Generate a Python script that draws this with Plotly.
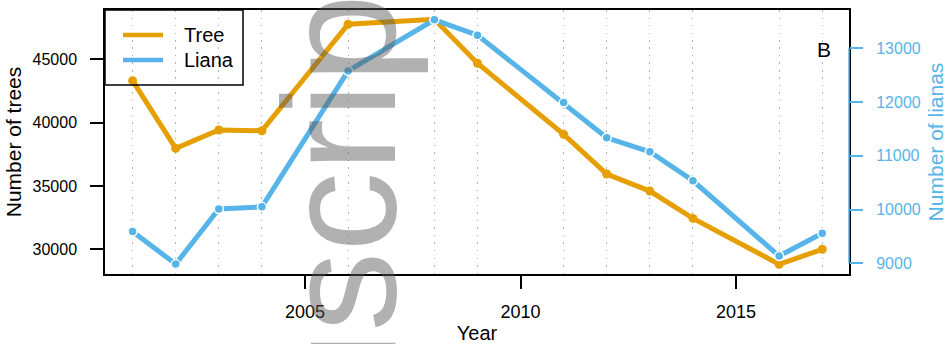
import plotly.graph_objects as go

# Annual counts of stems in the plot
years = [2001, 2002, 2003, 2004, 2006, 2008, 2009, 2011, 2012, 2013, 2014, 2016, 2017]
trees = [43310, 37970, 39415, 39360, 47765, 48160, 44685, 39075, 35940, 34595, 32440, 28820, 30000]
lianas = [9590, 8985, 10010, 10050, 12580, 13530, 13245, 11990, 11335, 11075, 10535, 9135, 9560]

# Axis ticks
x_ticks = [2005, 2010, 2015]
tree_ticks = [30000, 35000, 40000, 45000]
liana_ticks = [9000, 10000, 11000, 12000, 13000]

series_names = ["Tree", "Liana"]
TREE = "#E69F00"
LIANA = "#56B4E9"
series_colors = [TREE, LIANA]
FONT = "Liberation Sans, Arial, Helvetica, sans-serif"

fig = go.Figure()

# Tree series (left axis)
fig.add_trace(go.Scatter(x=years, y=trees, mode="lines+markers", name=series_names[0],
                         line=dict(color=TREE, width=5),
                         marker=dict(color=TREE, size=9), yaxis="y"))

# Liana series (right axis)
fig.add_trace(go.Scatter(x=years, y=lianas, mode="lines+markers", name=series_names[1],
                         line=dict(color=LIANA, width=5),
                         marker=dict(color=LIANA, size=9, line=dict(color="white", width=1.5)),
                         yaxis="y2"))

fig.update_layout(
    width=949, height=344,
    margin=dict(l=105, r=100, t=10, b=70, autoexpand=False),
    paper_bgcolor="white", plot_bgcolor="white",
    font=dict(family=FONT, color="black"),
    showlegend=False,
    xaxis=dict(
        range=[2000.36, 2017.62], tickmode="array", tickvals=x_ticks,
        ticks="outside", ticklen=13, tickwidth=1.5, tickcolor="black",
        showline=True, linecolor="black", linewidth=1.5, mirror=True,
        showgrid=False, zeroline=False, automargin=False,
        tickfont=dict(size=18, color="black"), ticklabelstandoff=8,
        title=dict(text="Year", font=dict(size=20, color="black"), standoff=11),
        minor=dict(tickmode="array", tickvals=years, showgrid=True, ticks="",
                   gridcolor="#b0b0b0", griddash="1.5px,6px", gridwidth=1.3),
    ),
    yaxis=dict(
        range=[28050, 48890], tickmode="array", tickvals=tree_ticks, tickformat="d",
        ticks="outside", ticklen=13, tickwidth=1.5, tickcolor="black",
        showline=True, linecolor="black", linewidth=1.5, mirror=True,
        showgrid=False, zeroline=False, automargin=False,
        tickfont=dict(size=16, color="black"), ticklabelstandoff=10,
        title=dict(text="Number of trees", font=dict(size=21, color="black"), standoff=5),
    ),
    yaxis2=dict(
        overlaying="y", side="right",
        range=[8801, 13713], tickmode="array", tickvals=liana_ticks, tickformat="d",
        ticks="outside", ticklen=13, tickwidth=1.5, tickcolor=LIANA,
        showline=False, showgrid=False, zeroline=False, automargin=False,
        tickfont=dict(size=16, color=LIANA), ticklabelstandoff=10,
        title=dict(text="Number of lianas", font=dict(size=21, color=LIANA), standoff=8),
    ),
)

# Right axis line spans only the labelled tick range
fig.add_shape(type="line", xref="paper", yref="y2", x0=1, x1=1,
              y0=min(liana_ticks), y1=max(liana_ticks),
              line=dict(color=LIANA, width=1.5), layer="above")

# Key in the top-left corner: framed box, line samples and labels
fig.add_shape(type="rect", xref="paper", yref="paper", x0=0, x1=0.1855, y0=0.716, y1=1,
              line=dict(color="black", width=1.5), fillcolor="rgba(0,0,0,0)", layer="above")
for i, (name, color) in enumerate(zip(series_names, series_colors)):
    ky = 0.905 - i * 0.0947
    fig.add_shape(type="line", xref="paper", yref="paper", x0=0.0242, x1=0.078, y0=ky, y1=ky,
                  line=dict(color=color, width=4.5), layer="above")
    fig.add_annotation(text=name, xref="paper", yref="paper", x=0.1035, y=ky,
                       xanchor="left", yanchor="middle", showarrow=False,
                       font=dict(size=20, color="black"))

# Panel letter
fig.add_annotation(text="B", xref="paper", yref="paper", x=0.9785, y=0.9015,
                   showarrow=False, font=dict(size=21, color="black"))

# Preprint watermark
fig.add_annotation(text="manuscript", xref="paper", yref="paper", x=0.3145, y=-0.25,
                   xanchor="center", yanchor="middle", textangle=-90, showarrow=False,
                   font=dict(size=160, color="rgba(90,90,90,0.47)", family=FONT))

fig.write_html("out.html")
